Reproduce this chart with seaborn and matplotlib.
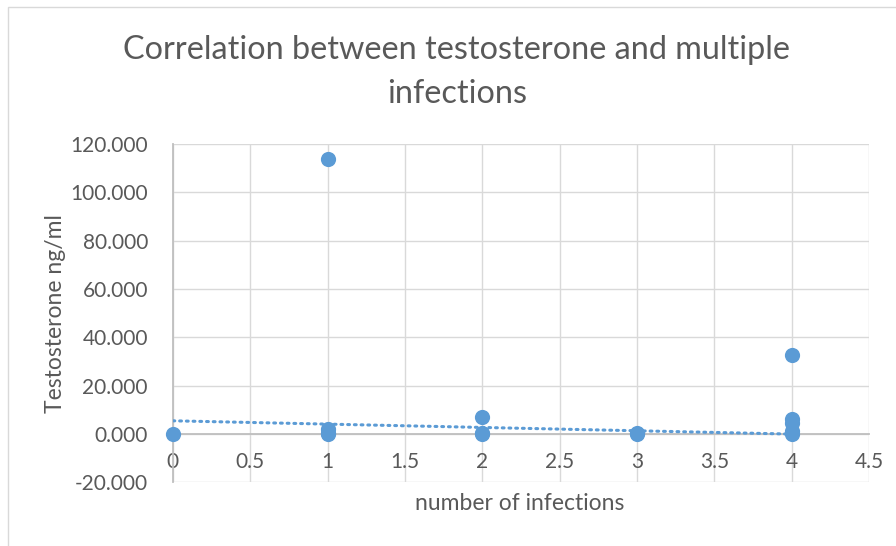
import seaborn as sns
import matplotlib.pyplot as plt
import matplotlib.patches as patches
import pandas as pd

# values
infections = [0, 1, 1, 1, 1, 2, 2, 2, 3, 3, 4, 4, 4, 4, 4]
testosterone = [0.0, 114.0, 1.8, 0.5, 0.0, 7.1, 0.4, 0.0, 0.3, 0.0, 32.7, 6.3, 4.3, 1.0, 0.0]

# linear trendline as drawn in the reference (ends at x=0 and x=4)
trend_x = [0, 4]
trend_y = [5.4, -0.1]

x_ticks = [0, 0.5, 1, 1.5, 2, 2.5, 3, 3.5, 4, 4.5]
y_ticks = [-20, 0, 20, 40, 60, 80, 100, 120]

blue = '#5B9BD5'
text_col = '#595959'

sns.set_style('white')
plt.rcParams['font.family'] = ['Lato', 'DejaVu Sans']

df = pd.DataFrame({'infections': infections, 'testosterone': testosterone})

fig = plt.figure(figsize=(8.96, 5.46), dpi=100)
ax = fig.add_axes([0.193, 0.117, 0.777, 0.619])

ax.grid(True, color='#D9D9D9', linewidth=1)
ax.set_axisbelow(True)

sns.lineplot(x=trend_x, y=trend_y, ax=ax, color=blue, linewidth=2.2,
             linestyle=(0, (0.6, 1.6)), dash_capstyle='round', zorder=3)
sns.scatterplot(data=df, x='infections', y='testosterone', ax=ax, color=blue,
                s=120, edgecolor=blue, linewidth=0, zorder=4, clip_on=False)

ax.set_xlim(0, 4.5)
ax.set_ylim(-20, 120)
ax.set_xticks(x_ticks)
ax.set_xticklabels([f'{t:g}' for t in x_ticks])
ax.set_yticks(y_ticks)
ax.set_yticklabels([f'{t:.3f}' for t in y_ticks])

for s in ['top', 'right']:
    ax.spines[s].set_visible(False)
ax.spines['bottom'].set_position(('data', 0))
ax.spines['bottom'].set_color('#BFBFBF')
ax.spines['left'].set_color('#BFBFBF')
ax.spines['bottom'].set_linewidth(1.3)
ax.spines['left'].set_linewidth(1.3)

ax.tick_params(axis='both', length=0, labelsize=15, colors=text_col)
ax.tick_params(axis='x', pad=13)
ax.tick_params(axis='y', pad=18)

ax.set_xlabel('')
ax.set_ylabel('')
fig.text(0.58, 0.078, 'number of infections', ha='center', va='center',
         fontsize=16.5, color=text_col)
fig.text(0.062, 0.425, 'Testosterone ng/ml', ha='center', va='center',
         rotation=90, fontsize=16.5, color=text_col)
fig.text(0.51, 0.868, 'Correlation between testosterone and multiple\ninfections',
         ha='center', va='center', fontsize=23.3, color=text_col, linespacing=1.6)

# chart area border
fig.patches.append(patches.Rectangle((8 / 896, -0.05), 1.0, 1 - 7 / 546 + 0.05,
                                     transform=fig.transFigure, fill=False,
                                     edgecolor='#D9D9D9', linewidth=1))

fig.savefig('out.png', dpi=100)
